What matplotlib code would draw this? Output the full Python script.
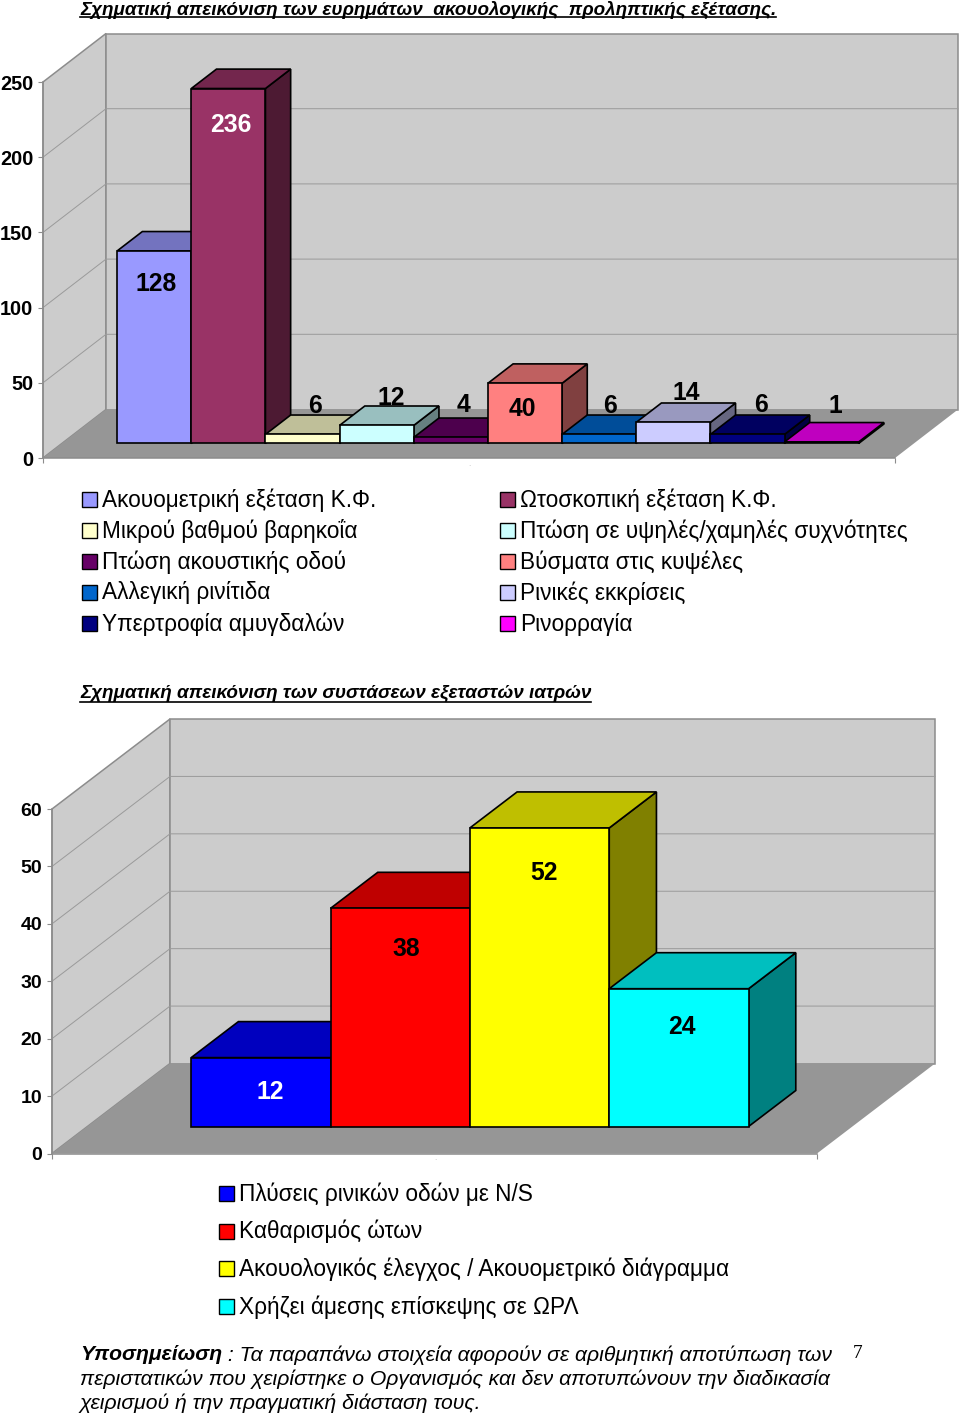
import matplotlib
matplotlib.use('Agg')
import matplotlib.pyplot as plt
from matplotlib.patches import Polygon, Rectangle
from matplotlib.colors import to_rgb

plt.rcParams['font.family'] = ['Liberation Sans', 'DejaVu Sans']

W, H = 960, 1413

# first chart
exam_labels = ['Ακουομετρική εξέταση Κ.Φ.', 'Ωτοσκοπική εξέταση Κ.Φ.',
               'Μικρού βαθμού βαρηκοΐα', 'Πτώση σε υψηλές/χαμηλές συχνότητες',
               'Πτώση ακουστικής οδού', 'Βύσματα στις κυψέλες',
               'Αλλεγική ρινίτιδα', 'Ρινικές εκκρίσεις',
               'Υπερτροφία αμυγδαλών', 'Ρινορραγία']
exam_values = [128, 236, 6, 12, 4, 40, 6, 14, 6, 1]
exam_colors = ['#9999FF', '#993366', '#FFFFCC', '#CCFFFF', '#660066',
               '#FF8080', '#0066CC', '#CCCCFF', '#000080', '#FF00FF']
exam_ticks = [0, 50, 100, 150, 200, 250]
exam_text_colors = ['black', 'white'] + ['black'] * 8
# label offset from the bar's top centre, pixels
exam_label_dx = [2, 2, 12, 15, 13, -3, 11, 13, 14, 14]
exam_label_dy = [33, 36, -28, -27, -32, 26, -28, -29, -29, -36]

# second chart
advice_labels = ['Πλύσεις ρινικών οδών με N/S', 'Καθαρισμός ώτων',
                 'Ακουολογικός έλεγχος / Ακουομετρικό διάγραμμα',
                 'Χρήζει άμεσης επίσκεψης σε ΩΡΛ']
advice_values = [12, 38, 52, 24]
advice_colors = ['#0000FF', '#FF0000', '#FFFF00', '#00FFFF']
advice_ticks = [0, 10, 20, 30, 40, 50, 60]
advice_text_colors = ['white', 'black', 'black', 'black']
advice_label_dx = [9, 6, 4, 3]
advice_label_dy = [34, 41, 45, 38]

title1 = 'Σχηματική απεικόνιση των ευρημάτων  ακουολογικής  προληπτικής εξέτασης.'
title2 = 'Σχηματική απεικόνιση των συστάσεων εξεταστών ιατρών'
note_head = 'Υποσημείωση'
note_lines = [' : Τα παραπάνω στοιχεία αφορούν σε αριθμητική αποτύπωση των',
              'περιστατικών που χειρίστηκε ο Οργανισμός και δεν αποτυπώνουν την διαδικασία',
              'χειρισμού ή την πραγματική διάσταση τους.']

WALL = '#CCCCCC'
FLOOR = '#969696'
EDGE = '#8C8C8C'
GRID = '#9A9A9A'
GAP = 0.745


def shade(color, k):
    r, g, b = to_rgb(color)
    return (r * k, g * k, b * k)


def draw_chart(fig, left, right, y_zero, y_top, depth, values, colors, ticks,
               text_colors, label_dx, label_dy, tick_size, label_size):
    ax = fig.add_axes([left / W, 1 - y_zero / H, (right - left) / W, (y_zero - y_top) / H])
    n = len(values)
    xmax = n + 2 * GAP
    ymax = ticks[-1]
    ax.set_xlim(0, xmax)
    ax.set_ylim(0, ymax)
    ax.patch.set_visible(False)
    px = xmax / (right - left)
    py = ymax / (y_zero - y_top)
    dx = depth[0] * px
    dy = depth[1] * py

    def face(points, color, z, edge='none', lw=0):
        ax.add_patch(Polygon(points, closed=True, facecolor=color, edgecolor=edge,
                             linewidth=lw, clip_on=False, zorder=z, joinstyle='miter'))

    # walls and floor
    face([(0, 0), (dx, dy), (dx, ymax + dy), (0, ymax)], WALL, 1, EDGE, 1.1)
    face([(dx, dy), (xmax + dx, dy), (xmax + dx, ymax + dy), (dx, ymax + dy)], WALL, 1, EDGE, 1.1)
    face([(0, 0), (xmax, 0), (xmax + dx, dy), (dx, dy)], FLOOR, 1.5)
    for t in ticks[1:-1]:
        ax.plot([0, dx, xmax + dx], [t, t + dy, t + dy], color=GRID, lw=0.7,
                clip_on=False, zorder=1.2)

    # bars, left to right so later ones cover the hidden part of earlier ones
    sx, sy = 0.3 * dx, 0.3 * dy
    bx, by = 0.4 * dx, 0.4 * dy
    for i, (v, c) in enumerate(zip(values, colors)):
        x0 = GAP + i + sx
        x1 = x0 + 1
        z = 3 + i * 0.1
        face([(x1, sy), (x1 + bx, sy + by), (x1 + bx, sy + by + v), (x1, sy + v)],
             shade(c, 0.5), z, 'black', 1.2)
        face([(x0, sy + v), (x1, sy + v), (x1 + bx, sy + by + v), (x0 + bx, sy + by + v)],
             shade(c, 0.75), z, 'black', 1.2)
        face([(x0, sy), (x1, sy), (x1, sy + v), (x0, sy + v)], c, z, 'black', 1.2)
    for i, v in enumerate(values):
        x = GAP + i + sx + 0.5 + label_dx[i] * px
        y = sy + v - label_dy[i] * py
        ax.text(x, y, str(v), ha='center', va='center', fontsize=label_size, fontweight='bold',
                color=text_colors[i], zorder=5, clip_on=False)

    ax.set_yticks(ticks)
    ax.set_xticks([0, xmax])
    ax.set_xticklabels([])
    ax.tick_params(axis='both', length=3.6, width=0.8, color=EDGE, pad=3.4)
    ax.tick_params(axis='y', labelsize=tick_size)
    for lab in ax.get_yticklabels():
        lab.set_fontweight('bold')
    for s in ['top', 'right']:
        ax.spines[s].set_visible(False)
    for s in ['left', 'bottom']:
        ax.spines[s].set_color(EDGE)
        ax.spines[s].set_linewidth(1.1)
    return ax


fig = plt.figure(figsize=(W / 100, H / 100), dpi=100, facecolor='white')

draw_chart(fig, 43, 895, 458, 82, (63, 48.5), exam_values, exam_colors, exam_ticks,
           exam_text_colors, exam_label_dx, exam_label_dy, 14.3, 17.8)
draw_chart(fig, 52, 817, 1153.5, 809, (118, 90), advice_values, advice_colors, advice_ticks,
           advice_text_colors, advice_label_dx, advice_label_dy, 14, 17.8)

# page layer for titles, legends and the note, in pixels
page = fig.add_axes([0, 0, 1, 1], zorder=10)
page.set_xlim(0, W)
page.set_ylim(H, 0)
page.axis('off')


def underlined(x, y, text, size, line_y):
    t = page.text(x, y, text, fontsize=size, fontweight='bold', fontstyle='italic', va='center')
    box = t.get_window_extent(fig.canvas.get_renderer())
    page.plot([x, box.x1], [line_y, line_y], color='black', lw=1.2)


underlined(80, 9.5, title1, 13.6, 17)
underlined(80, 693.5, title2, 13.55, 702)


def legend_item(x, y, label, color, size, box=15):
    page.add_patch(Rectangle((x, y - box / 2), box, box, facecolor=color, edgecolor='black', lw=1))
    page.text(x + box + 5, y + 0.5, label, fontsize=size, va='center', color='black')


for i, (lab, col) in enumerate(zip(exam_labels, exam_colors)):
    row, column = i // 2, i % 2
    legend_item(82 if column == 0 else 500, 499.5 + row * 31, lab, col, 16.3)

for i, (lab, col) in enumerate(zip(advice_labels, advice_colors)):
    legend_item(219, 1193.5 + i * 37.6, lab, col, 16.3)

# note under the charts
head = page.text(80, 1355, note_head, fontsize=15.2, fontweight='bold', fontstyle='italic', va='center')
hx = head.get_window_extent(fig.canvas.get_renderer()).x1
page.text(hx, 1355, note_lines[0], fontsize=15.2, fontstyle='italic', va='center')
page.text(80, 1379, note_lines[1], fontsize=15.2, fontstyle='italic', va='center')
page.text(80, 1403, note_lines[2], fontsize=15.2, fontstyle='italic', va='center')
page.text(858, 1353, '7', fontsize=14, family='Liberation Serif', ha='center', va='center')

# faint blank category labels under each chart
page.text(469, 464, '.', fontsize=6, color='#BBBBBB', ha='center', va='center')
page.text(435, 1159, '.', fontsize=6, color='#BBBBBB', ha='center', va='center')

fig.savefig('out.png', dpi=100)
